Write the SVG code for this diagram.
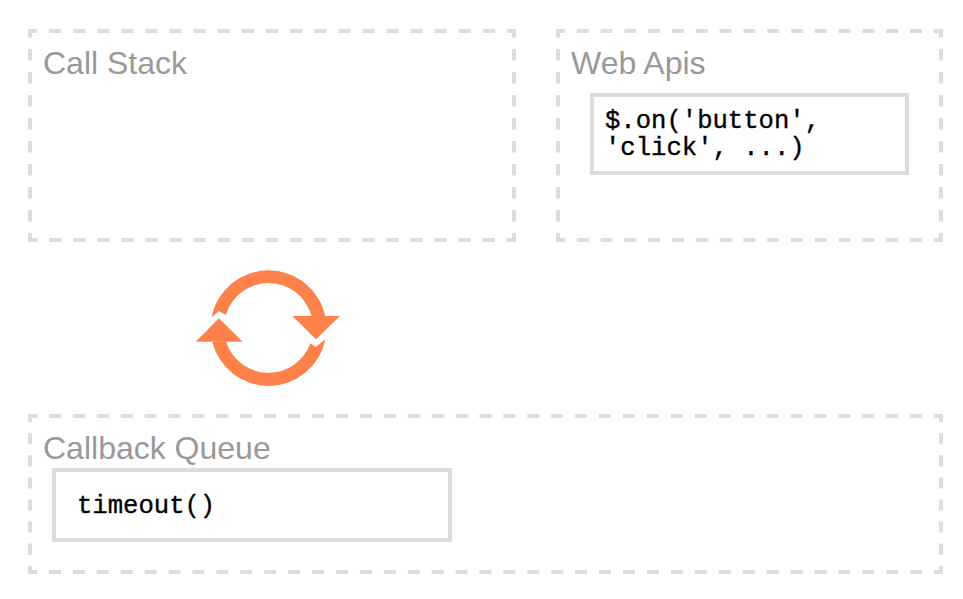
<svg xmlns="http://www.w3.org/2000/svg" width="963" height="599" viewBox="0 0 963 599">
<style>
.zone{fill:none;stroke:#ddd;stroke-width:4}
.h1{stroke-dasharray:12.05 12.05;stroke-dashoffset:3}
.h2{stroke-dasharray:11.9 11.9;stroke-dashoffset:3}
.h3{stroke-dasharray:11.96 11.96;stroke-dashoffset:3}
.v1{stroke-dasharray:11.5 11.5;stroke-dashoffset:2.9}
.v2{stroke-dasharray:11.03 11.03;stroke-dashoffset:2.75}
.item{fill:#fff;stroke:#ddd;stroke-width:4}
.title{font-family:"Liberation Sans",Arial,sans-serif;font-size:32px;fill:#999}
.code{font-family:"Liberation Mono","Courier New",monospace;font-size:25.6px;fill:#000;stroke:#000;stroke-width:.35px}
.loop{fill:#ff814a}
</style>
<rect width="963" height="599" fill="#fff"/>
<g id="call-stack">
<path class="zone h1" d="M28 31H516M28 240H516"/>
<path class="zone v1" d="M30 29V242M514 29V242"/>
<text class="title" x="43" y="73.500">Call Stack</text>
</g>
<g id="web-apis">
<path class="zone h2" d="M556 31H943M556 240H943"/>
<path class="zone v1" d="M558 29V242M941 29V242"/>
<text class="title" x="571" y="73.500">Web Apis</text>
<rect class="item" x="592" y="95" width="315" height="78"/>
<text class="code" x="605" y="128">$.on('button',</text>
<text class="code" x="605" y="155">'click', ...)</text>
</g>
<g id="callback-queue">
<path class="zone h3" d="M28 416H943M28 572H943"/>
<path class="zone v2" d="M30 414V574M941 414V574"/>
<text class="title" x="43" y="458.500">Callback Queue</text>
<rect class="item" x="54" y="470" width="396" height="70"/>
<text class="code" x="77" y="513">timeout()</text>
</g>
<g id="connectors">
<path class="loop" d="M211.600 317.300A58 58 0 0 1 325.200 316L311.500 316A44.500 44.500 0 0 0 225.800 315L219 311Z"/>
<polygon class="loop" points="292.300,316 340,316 316,339.300"/>
<path class="loop" d="M325.400 339.300A58 58 0 0 1 212.200 341.700L226.100 341.700A44.500 44.500 0 0 0 310.400 343.300L315.700 347Z"/>
<polygon class="loop" points="195.700,341.700 242.700,341.700 219,318.300"/>
</g>
</svg>
